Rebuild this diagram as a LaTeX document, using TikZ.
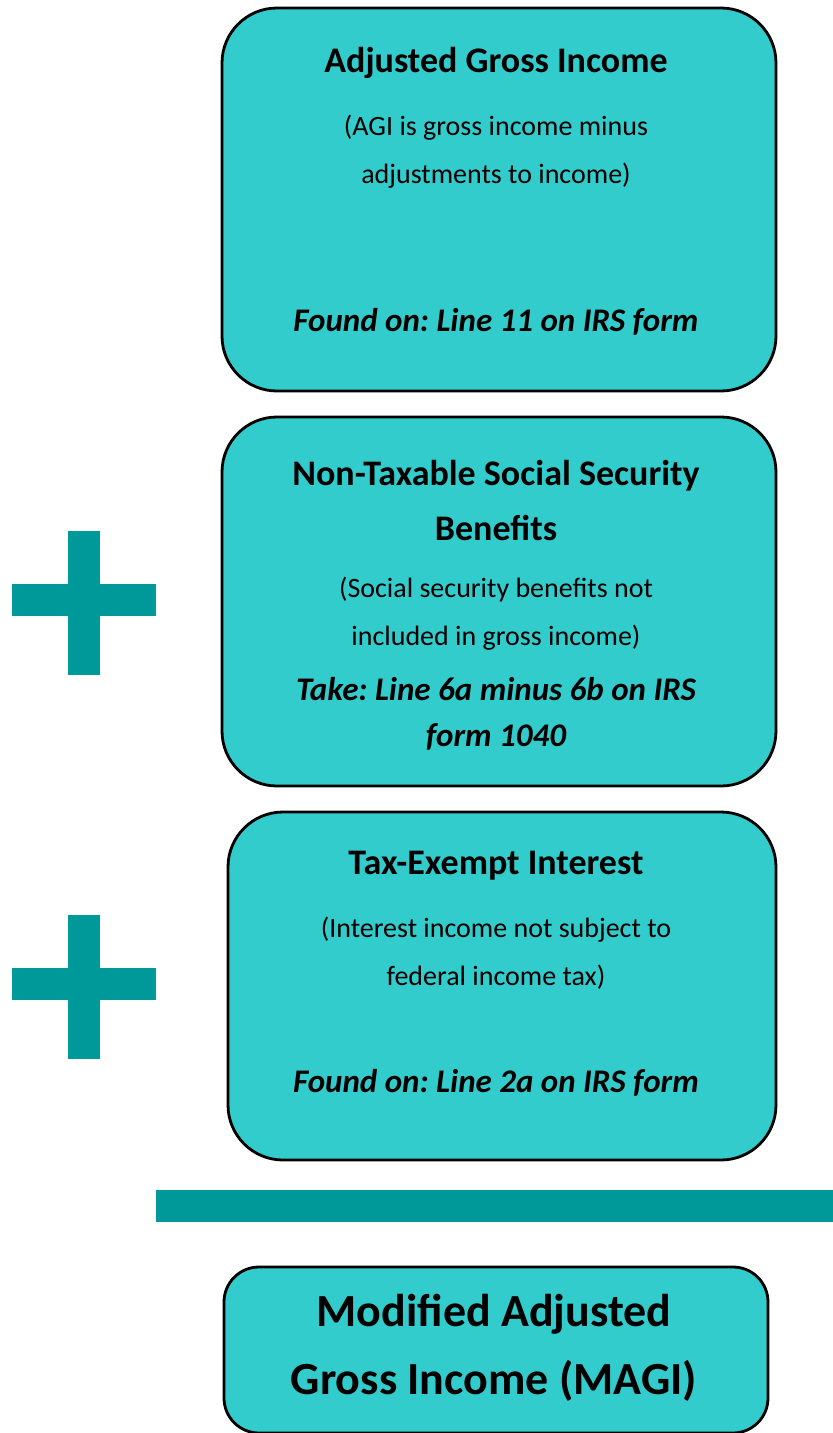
\documentclass[tikz,border=0pt]{standalone}
\usepackage{fontspec}
\setmainfont{Carlito}
\frenchspacing
\definecolor{boxfill}{HTML}{33CCCC}
\definecolor{signcol}{HTML}{009999}

\begin{document}
\begin{tikzpicture}[x=1pt, y=-1pt,
    box/.style={draw=black, line width=2.8pt, fill=boxfill, rounded corners=55pt, inner sep=0pt},
    ttl/.style={font=\fontsize{36}{55}\selectfont\bfseries, align=center},
    sub/.style={font=\fontsize{28}{48}\selectfont, align=center},
    fnd/.style={font=\fontsize{33}{46}\selectfont\bfseries\itshape, align=center}]
    \useasboundingbox (0,0) rectangle (833,1433);

    % boxes
    \node[box, minimum width=554pt, minimum height=383pt] (agi) at (499,199.5) {};
    \node[box, minimum width=554pt, minimum height=369pt] (ssb) at (499,601.5) {};
    \node[box, minimum width=548pt, minimum height=348pt] (tei) at (502,986) {};
    \node[box, rounded corners=35pt, minimum width=544pt, minimum height=166pt] (magi) at (496,1350) {};

    % texts
    \node[ttl] (agititle) at (496,63) {Adjusted Gross Income};
    \node[sub] (agisub) at (496,152) {(AGI is gross income minus\\adjustments to income)};
    \node[fnd] (agifound) at (496,322) {Found on: Line 11 on IRS form};

    \node[ttl] (ssbtitle) at (496,500) {Non-Taxable Social Security\\Benefits};
    \node[sub] (ssbsub) at (496,613.5) {(Social security benefits not\\included in gross income)};
    \node[fnd] (ssbfound) at (496,714) {Take: Line 6a minus 6b on IRS\\form 1040};

    \node[ttl] (teititle) at (496,866) {Tax-Exempt Interest};
    \node[sub] (teisub) at (496,953.5) {(Interest income not subject to\\federal income tax)};
    \node[fnd] (teifound) at (496,1083) {Found on: Line 2a on IRS form};

    \node[font=\fontsize{46}{68}\selectfont\bfseries, align=center] (magititle) at (494,1348) {Modified Adjusted\\Gross Income (MAGI)};

    % plus signs and sum bar
    \foreach \vy/\hy in {603/600, 986.5/984}{
        \fill[signcol] (68,\vy-72) rectangle (100,\vy+72);
        \fill[signcol] (12,\hy-16) rectangle (156,\hy+16);}
    \fill[signcol] (156,1190) rectangle (833,1222);

\end{tikzpicture}
\end{document}
